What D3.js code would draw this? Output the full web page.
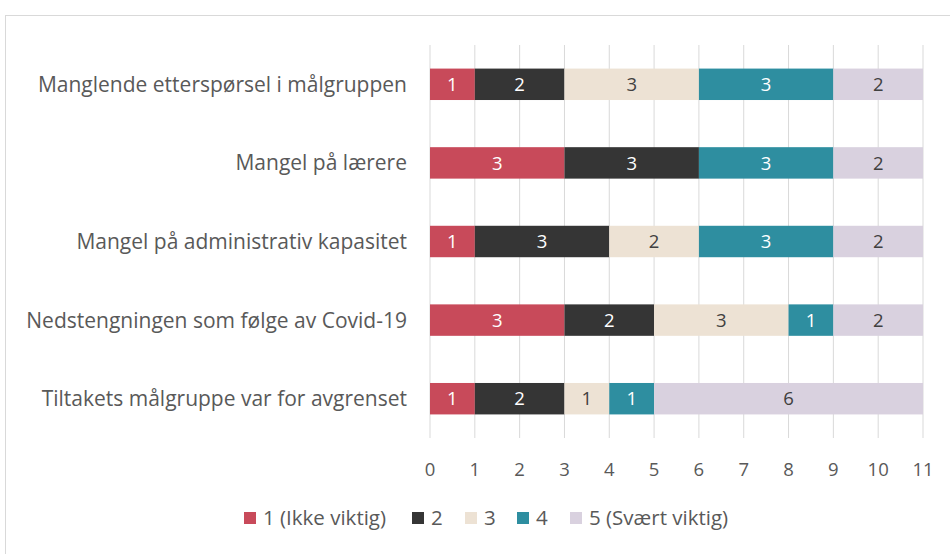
<!DOCTYPE html>
<html>
<head>
<meta charset="utf-8">
<script src="https://cdn.jsdelivr.net/npm/d3@7"></script>
<style>
  body { margin: 0; background: #fff; }
  text { font-family: "Open Sans", "Noto Sans", sans-serif; }
</style>
</head>
<body>
<div id="vis"></div>
<script>
const FRAME_WIDTH = 950;
const FRAME_HEIGHT = 554;
const MARGINS = { left: 430, right: 27, top: 45, bottom: 116 };

const VIS_WIDTH = FRAME_WIDTH - MARGINS.left - MARGINS.right;
const VIS_HEIGHT = FRAME_HEIGHT - MARGINS.top - MARGINS.bottom;

// data
const categories = [
	"Manglende etterspørsel i målgruppen",
	"Mangel på lærere",
	"Mangel på administrativ kapasitet",
	"Nedstengningen som følge av Covid-19",
	"Tiltakets målgruppe var for avgrenset"
];
const seriesNames = ["1 (Ikke viktig)", "2", "3", "4", "5 (Svært viktig)"];
const s1 = [1, 3, 1, 3, 1];
const s2 = [2, 3, 3, 2, 2];
const s3 = [3, 0, 2, 3, 1];
const s4 = [3, 3, 3, 1, 1];
const s5 = [2, 2, 2, 2, 6];
const xTicks = [0, 1, 2, 3, 4, 5, 6, 7, 8, 9, 10, 11];

const COLORS = ["#C84A5A", "#353535", "#EDE2D4", "#2E8EA0", "#D9D1DF"];
const LABEL_COLORS = ["#ffffff", "#ffffff", "#404040", "#ffffff", "#404040"];

const table = categories.map((c, i) => ({
	cat: c, s0: s1[i], s1: s2[i], s2: s3[i], s3: s4[i], s4: s5[i]
}));
const keys = ["s0", "s1", "s2", "s3", "s4"];
const stacked = d3.stack().keys(keys)(table);

const FRAME = d3.select("#vis")
	.append("svg")
	.attr("width", FRAME_WIDTH)
	.attr("height", FRAME_HEIGHT);

// chart border
FRAME.append("rect")
	.attr("x", 5.5).attr("y", 15.5)
	.attr("width", FRAME_WIDTH + 10).attr("height", FRAME_HEIGHT + 10)
	.attr("fill", "none")
	.attr("stroke", "#d9d9d9");

const X_SCALE = d3.scaleLinear().domain([0, 11]).range([0, VIS_WIDTH]);
const Y_SCALE = d3.scaleBand().domain(categories).range([0, VIS_HEIGHT]).paddingInner(0.6).paddingOuter(0.3);

const G = FRAME.append("g").attr("transform", `translate(${MARGINS.left}, ${MARGINS.top})`);

// gridlines
G.selectAll(".grid")
	.data(xTicks)
	.enter()
	.append("line")
	.attr("x1", (d) => X_SCALE(d))
	.attr("x2", (d) => X_SCALE(d))
	.attr("y1", 0)
	.attr("y2", VIS_HEIGHT)
	.attr("stroke", "#d9d9d9")
	.attr("stroke-width", 1);

// bars
stacked.forEach((layer, k) => {
	const g = G.append("g");
	g.selectAll("rect")
		.data(layer.filter((d) => d[1] > d[0]))
		.enter()
		.append("rect")
		.attr("x", (d) => X_SCALE(d[0]))
		.attr("y", (d) => Y_SCALE(d.data.cat))
		.attr("width", (d) => X_SCALE(d[1]) - X_SCALE(d[0]))
		.attr("height", Y_SCALE.bandwidth())
		.attr("fill", COLORS[k]);

	g.selectAll("text")
		.data(layer.filter((d) => d[1] > d[0]))
		.enter()
		.append("text")
		.attr("x", (d) => X_SCALE((d[0] + d[1]) / 2))
		.attr("y", (d) => Y_SCALE(d.data.cat) + Y_SCALE.bandwidth() / 2)
		.attr("dy", "0.36em")
		.attr("text-anchor", "middle")
		.attr("font-size", 18.5)
		.attr("fill", LABEL_COLORS[k])
		.text((d) => d[1] - d[0]);
});

// x axis labels
G.selectAll(".xlab")
	.data(xTicks)
	.enter()
	.append("text")
	.attr("x", (d) => X_SCALE(d))
	.attr("y", VIS_HEIGHT + 38)
	.attr("text-anchor", "middle")
	.attr("font-size", 18.5)
	.attr("fill", "#595959")
	.text((d) => d);

// category labels
G.selectAll(".ylab")
	.data(categories)
	.enter()
	.append("text")
	.attr("x", -23)
	.attr("y", (d) => Y_SCALE(d) + Y_SCALE.bandwidth() / 2)
	.attr("dy", "0.36em")
	.attr("text-anchor", "end")
	.attr("font-size", 21)
	.attr("fill", "#595959")
	.text((d) => d);

// legend
const LEGEND_X = [244, 412, 465, 517, 570];
const legend = FRAME.append("g");
seriesNames.forEach((name, i) => {
	legend.append("rect")
		.attr("x", LEGEND_X[i]).attr("y", 512)
		.attr("width", 12).attr("height", 12)
		.attr("fill", COLORS[i]);
	legend.append("text")
		.attr("x", LEGEND_X[i] + 19).attr("y", 518)
		.attr("dy", "0.36em")
		.attr("font-size", 20.5)
		.attr("fill", "#595959")
		.text(name);
});
</script>
</body>
</html>
